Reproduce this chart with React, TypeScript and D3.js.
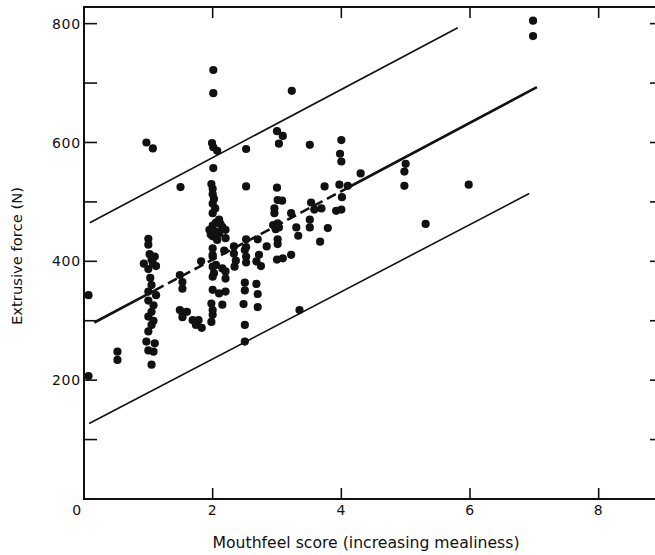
import React from "react";
import * as d3 from "d3";

// Mouthfeel score vs. extrusive force, one entry per sample
const samples: [number, number][] = [
  [0.07, 343], [0.07, 207],
  [0.52, 248], [0.52, 234],
  [0.97, 600], [1.07, 590],
  [1.0, 438], [1.0, 428], [1.02, 412], [1.1, 408], [0.93, 396], [1.05, 403], [1.12, 392],
  [1.0, 387], [1.07, 397], [1.03, 372], [1.05, 360], [1.0, 349], [1.12, 343], [1.0, 334],
  [1.08, 326], [1.05, 315], [1.0, 307], [1.08, 300], [1.05, 293], [1.0, 282], [0.97, 265],
  [1.1, 262], [1.0, 250], [1.08, 248], [1.05, 226],
  [1.5, 525], [1.49, 377], [1.53, 365], [1.53, 354], [1.49, 318], [1.53, 314], [1.6, 315],
  [1.53, 306], [1.69, 301], [1.78, 301], [1.74, 293], [1.83, 288], [1.82, 400],
  [2.01, 722], [2.01, 683], [1.99, 599], [2.01, 592], [2.07, 586], [2.01, 557], [1.98, 530],
  [2.0, 522], [2.0, 513], [2.02, 505], [2.0, 497], [2.04, 489], [2.0, 481],
  [1.95, 453], [2.05, 465], [2.12, 463], [2.2, 453], [2.1, 447], [2.0, 442], [2.07, 436],
  [2.0, 422], [2.2, 439], [2.18, 418], [2.15, 458], [2.0, 460], [2.1, 470], [2.05, 450],
  [1.97, 445],
  [2.0, 408], [2.05, 394], [2.0, 391], [2.0, 411], [2.02, 380], [2.15, 388], [2.2, 383],
  [2.0, 374], [2.2, 371], [2.0, 352], [2.1, 346], [2.2, 349], [2.15, 327], [1.98, 329],
  [2.0, 318], [2.0, 310], [1.98, 298],
  [2.33, 425], [2.33, 413], [2.36, 401], [2.34, 391],
  [2.52, 589], [2.52, 526], [2.52, 437], [2.52, 424], [2.5, 419], [2.52, 408], [2.52, 398],
  [2.5, 364], [2.5, 351], [2.48, 328], [2.5, 293], [2.5, 265],
  [2.7, 437], [2.72, 411], [2.68, 400], [2.75, 392], [2.68, 362], [2.7, 345], [2.7, 323],
  [2.84, 425],
  [3.0, 619], [3.09, 611], [3.03, 598], [3.0, 524], [3.01, 503], [3.08, 502], [2.96, 489],
  [2.96, 481], [2.94, 461], [3.01, 464], [2.98, 454], [3.03, 457], [3.01, 437], [3.01, 429],
  [3.0, 403], [3.09, 405],
  [3.23, 687], [3.22, 481], [3.22, 411], [3.3, 457], [3.33, 443], [3.35, 318],
  [3.51, 596], [3.53, 499], [3.58, 487], [3.51, 470], [3.51, 457], [3.67, 433], [3.69, 489],
  [3.74, 526], [3.79, 456],
  [4.0, 604], [3.98, 581], [4.0, 568], [3.97, 529], [4.1, 527], [4.01, 508], [3.92, 485],
  [4.0, 487], [4.3, 548],
  [5.0, 564], [4.98, 551], [4.98, 527], [5.31, 463], [5.98, 529], [6.98, 805], [6.98, 779],
];

// Fitted regression and its limits, as [score, force] end points
const regressionLine: [number, number][] = [[0.16, 297], [7.04, 693]];
const upperLimit: [number, number][] = [[0.09, 465], [5.81, 793]];
const lowerLimit: [number, number][] = [[0.08, 127], [6.92, 514]];
// score range over which the regression line is drawn broken
const brokenSpan: [number, number] = [1.1, 4.1];

const xTicks = [2, 4, 6, 8];
const yLabelTicks = [200, 400, 600, 800];
const yAllTicks = [100, 200, 300, 400, 500, 600, 700, 800];

const xTitle = "Mouthfeel score (increasing mealiness)";
const yTitle = "Extrusive force (N)";

const W = 655;
const H = 555;
const FONT = "'DejaVu Sans', sans-serif";

export default function App() {
  const x = d3.scaleLinear().domain([0, 9]).range([84, 663]);
  const y = d3.scaleLinear().domain([0, 828]).range([499, 7]);
  const line = d3
    .line<[number, number]>()
    .x((d) => x(d[0]))
    .y((d) => y(d[1]));

  const fitAt = (s: number): [number, number] => {
    const [[x0, y0], [x1, y1]] = regressionLine;
    return [s, y0 + ((y1 - y0) * (s - x0)) / (x1 - x0)];
  };

  const left = x(0);
  const right = x(9);
  const top = y(828);
  const bottom = y(0);
  const tickLen = 13;
  const xTickLen = 11;

  return (
    <svg
      width={W}
      height={H}
      style={{ position: "absolute", left: 0, top: 0, background: "#fff" }}
    >
      <rect x={0} y={0} width={W} height={H} fill="#fff" />
      {/* frame */}
      <g stroke="#111" strokeWidth={2} fill="none">
        <line x1={left} y1={top} x2={left} y2={bottom} />
        <line x1={left - 1} y1={bottom} x2={right} y2={bottom} />
        <line x1={left - 1} y1={top} x2={right} y2={top} />
        <line x1={right} y1={top} x2={right} y2={bottom} />
      </g>
      {/* inward ticks */}
      <g stroke="#111" strokeWidth={1.6}>
        {yAllTicks.map((t) => (
          <line key={"l" + t} x1={left} x2={left + tickLen} y1={y(t)} y2={y(t)} />
        ))}
        {yAllTicks.map((t) => (
          <line key={"r" + t} x1={right} x2={right - tickLen} y1={y(t)} y2={y(t)} />
        ))}
        {xTicks.map((t) => (
          <line key={"b" + t} x1={x(t)} x2={x(t)} y1={bottom} y2={bottom - xTickLen} />
        ))}
        {xTicks.map((t) => (
          <line key={"t" + t} x1={x(t)} x2={x(t)} y1={top} y2={top + xTickLen} />
        ))}
      </g>
      {/* tick labels */}
      <g fontFamily={FONT} fontSize={14} fill="#111" letterSpacing={0.8}>
        {yLabelTicks.map((t) => (
          <text key={t} x={left - 3} y={y(t)} dy="0.36em" textAnchor="end">
            {t}
          </text>
        ))}
        <text x={left - 7} y={515} textAnchor="middle">
          0
        </text>
        {xTicks.map((t) => (
          <text key={t} x={x(t)} y={515} textAnchor="middle">
            {t}
          </text>
        ))}
      </g>
      {/* axis titles */}
      <text
        x={366}
        y={548}
        textAnchor="middle"
        fontFamily={FONT}
        fontSize={15}
        fill="#111"
        textLength={307}
        lengthAdjust="spacingAndGlyphs"
      >
        {xTitle}
      </text>
      <text
        transform="translate(22,256) rotate(-90)"
        textAnchor="middle"
        fontFamily={FONT}
        fontSize={14}
        fill="#111"
        textLength={138}
        lengthAdjust="spacingAndGlyphs"
      >
        {yTitle}
      </text>
      {/* limit lines */}
      <g stroke="#111" fill="none" strokeWidth={1.6}>
        <path d={line(upperLimit) || ""} />
        <path d={line(lowerLimit) || ""} />
      </g>
      {/* regression line */}
      <g stroke="#111" fill="none" strokeWidth={2.6}>
        <path d={line([regressionLine[0], fitAt(brokenSpan[0])]) || ""} />
        <path
          d={line([fitAt(brokenSpan[0]), fitAt(brokenSpan[1])]) || ""}
          strokeDasharray="10,5"
        />
        <path d={line([fitAt(brokenSpan[1]), regressionLine[1]]) || ""} />
      </g>
      {/* samples */}
      <g fill="#111">
        {samples.map((d, i) => (
          <circle key={i} cx={x(d[0])} cy={y(d[1])} r={4.1} />
        ))}
      </g>
    </svg>
  );
}
